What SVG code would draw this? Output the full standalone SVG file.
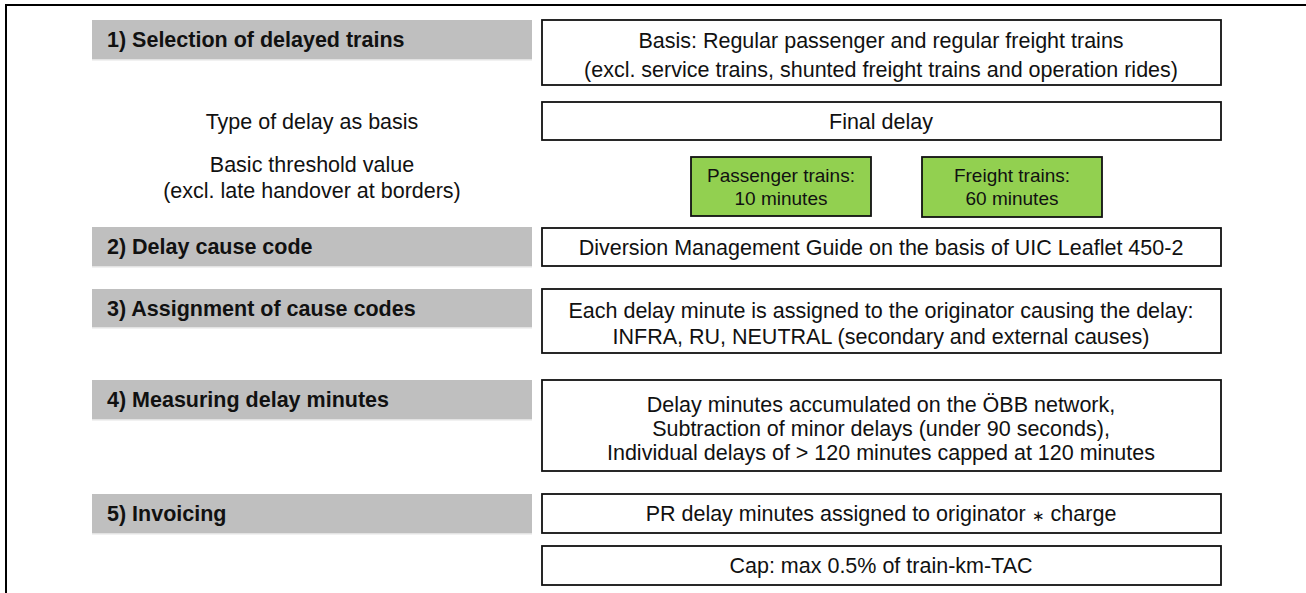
<svg xmlns="http://www.w3.org/2000/svg" width="1306" height="593" viewBox="0 0 1306 593">
<style>
text{font-family:"Liberation Sans",Arial,sans-serif;fill:#111;}
.h{font-size:21.5px;font-weight:bold;}
.t{font-size:21.5px;text-anchor:middle;}
.g{font-size:19px;text-anchor:middle;}
.bar{fill:#bfbfbf;}
.edge{fill:#e3e3e3;}
.box{fill:#fff;stroke:#111;stroke-width:1.8;}
.grn{fill:#92d050;stroke:#111;stroke-width:1.8;}
.star{font-size:15px;}
</style>
<rect width="1306" height="593" fill="#fff"/>
<path d="M6,593 V5 H1306" fill="none" stroke="#000" stroke-width="2"/>

<g id="step1">
<rect class="bar" x="92" y="20" width="440" height="39"/>
<rect class="edge" x="92" y="59" width="440" height="1.5"/>
<text class="h" x="107" y="47">1) Selection of delayed trains</text>
</g>
<g id="basis">
<rect class="box" x="542" y="20" width="679" height="65"/>
<text class="t" x="881" y="48">Basis: Regular passenger and regular freight trains</text>
<text class="t" x="881" y="77">(excl. service trains, shunted freight trains and operation rides)</text>
</g>
<g id="type-label">
<text class="t" x="312" y="129">Type of delay as basis</text>
</g>
<g id="final-delay">
<rect class="box" x="542" y="102" width="679" height="38"/>
<text class="t" x="881" y="129">Final delay</text>
</g>
<g id="threshold-label">
<text class="t" x="312" y="172">Basic threshold value</text>
<text class="t" x="312" y="198">(excl. late handover at borders)</text>
</g>
<g id="passenger">
<rect class="grn" x="691" y="157" width="180" height="59"/>
<text class="g" x="781" y="182">Passenger trains:</text>
<text class="g" x="781" y="205">10 minutes</text>
</g>
<g id="freight">
<rect class="grn" x="922" y="157" width="180" height="60"/>
<text class="g" x="1012" y="182">Freight trains:</text>
<text class="g" x="1012" y="205">60 minutes</text>
</g>

<g id="step2">
<rect class="bar" x="92" y="227" width="440" height="39"/>
<rect class="edge" x="92" y="266" width="440" height="1.5"/>
<text class="h" x="107" y="254">2) Delay cause code</text>
</g>
<g id="cause-code">
<rect class="box" x="542" y="228" width="679" height="38"/>
<text class="t" x="881" y="255">Diversion Management Guide on the basis of UIC Leaflet 450-2</text>
</g>

<g id="step3">
<rect class="bar" x="92" y="289" width="440" height="38"/>
<rect class="edge" x="92" y="327" width="440" height="1.5"/>
<text class="h" x="107" y="316">3) Assignment of cause codes</text>
</g>
<g id="assignment">
<rect class="box" x="542" y="289" width="679" height="64"/>
<text class="t" x="881" y="318">Each delay minute is assigned to the originator causing the delay:</text>
<text class="t" x="881" y="344">INFRA, RU, NEUTRAL (secondary and external causes)</text>
</g>

<g id="step4">
<rect class="bar" x="92" y="380" width="440" height="39"/>
<rect class="edge" x="92" y="419" width="440" height="1.5"/>
<text class="h" x="107" y="407">4) Measuring delay minutes</text>
</g>
<g id="measuring">
<rect class="box" x="542" y="380" width="679" height="91"/>
<text class="t" x="881" y="412">Delay minutes accumulated on the ÖBB network,</text>
<text class="t" x="881" y="436">Subtraction of minor delays (under 90 seconds),</text>
<text class="t" x="881" y="460">Individual delays of &gt; 120 minutes capped at 120 minutes</text>
</g>

<g id="step5">
<rect class="bar" x="92" y="494" width="440" height="39"/>
<rect class="edge" x="92" y="533" width="440" height="1.5"/>
<text class="h" x="107" y="521">5) Invoicing</text>
</g>
<g id="invoicing">
<rect class="box" x="542" y="494" width="679" height="39"/>
<text class="t" x="881" y="521">PR delay minutes assigned to originator <tspan class="star">∗</tspan> charge</text>
</g>
<g id="cap">
<rect class="box" x="542" y="546" width="679" height="39"/>
<text class="t" x="881" y="573">Cap: max 0.5% of train-km-TAC</text>
</g>
</svg>
